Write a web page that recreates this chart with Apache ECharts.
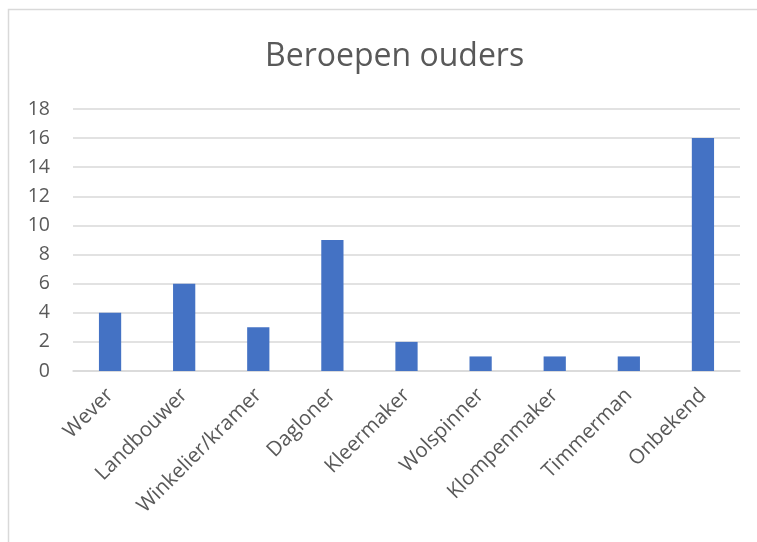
<!DOCTYPE html>
<html>
<head>
<meta charset="utf-8">
<script src="https://cdn.jsdelivr.net/npm/echarts@6/dist/echarts.min.js"></script>
<style>
  html, body { margin: 0; padding: 0; background: #fff; }
  #chart { width: 757px; height: 542px; }
</style>
</head>
<body>
<div id="chart"></div>
<script>
const categories = ['Wever', 'Landbouwer', 'Winkelier/kramer', 'Dagloner', 'Kleermaker', 'Wolspinner', 'Klompenmaker', 'Timmerman', 'Onbekend'];
const values = [4, 6, 3, 9, 2, 1, 1, 1, 16];

const textColor = '#595959';
const font = '"Open Sans", "Liberation Sans", sans-serif';

const chart = echarts.init(document.getElementById('chart'));
chart.setOption({
  animation: false,
  graphic: [{
    type: 'rect',
    shape: { x: 8.5, y: 9.5, width: 800, height: 600 },
    style: { fill: 'none', stroke: '#d9d9d9', lineWidth: 1.5 },
    silent: true
  }],
  title: {
    text: 'Beroepen ouders',
    left: 260,
    top: 36,
    textStyle: { fontFamily: font, fontSize: 32, fontWeight: 'normal', color: textColor }
  },
  grid: { left: 73, right: 17, top: 109, bottom: 171, containLabel: false },
  xAxis: {
    type: 'category',
    data: categories,
    axisTick: { show: false },
    axisLine: { lineStyle: { color: '#d9d9d9', width: 1.5 } },
    axisLabel: {
      rotate: 45,
      interval: 0,
      margin: 21,
      color: textColor,
      fontFamily: font,
      fontSize: 20.5
    }
  },
  yAxis: {
    type: 'value',
    min: 0,
    max: 18,
    interval: 2,
    axisLine: { show: false },
    axisTick: { show: false },
    splitLine: { lineStyle: { color: '#d9d9d9', width: 1.5 } },
    axisLabel: { margin: 23, color: textColor, fontFamily: font, fontSize: 19.5 }
  },
  series: [{
    type: 'bar',
    data: values,
    barWidth: '30%',
    itemStyle: { color: '#4472C4' }
  }]
});
</script>
</body>
</html>
